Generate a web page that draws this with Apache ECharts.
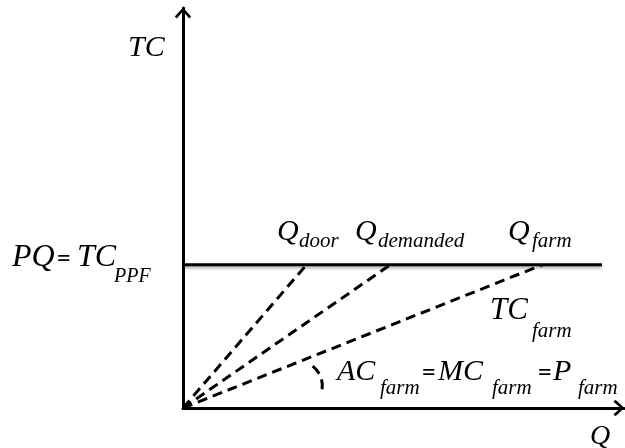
<!DOCTYPE html>
<html>
<head>
<meta charset="utf-8">
<script src="https://cdn.jsdelivr.net/npm/echarts@6/dist/echarts.min.js"></script>
<style>html,body{margin:0;padding:0;background:#fff}#c{width:625px;height:448px}</style>
</head>
<body>
<div id="c"></div>
<script>
// ---- data (Q on x, TC on y, 0..10 scales) ----
const qDoor = 2.8;        // where dashed ray hits PQ line
const qDemanded = 4.7;
const qFarm = 8.15;
const tcPPF = 3.58;       // PQ = TC_PPF level
const qLineEnd = 9.5;     // end of the PQ line
// angle marker: centre (Q, TC), radius (Q units), start/end angle (deg, screen)
const arcCenter = [2.59, 0.55];
const arcRadius = 0.57;
const arcAngles = [-52, 14];
const axisMax = 10;

const F = '"Liberation Serif", "Times New Roman", serif';
function t(text, x, y, size, upright) {
  return { type: 'text', x: x, y: y, silent: true, z: 20,
    style: { text: text, font: (upright ? 'bold ' : 'italic ') + size + 'px ' + F, fill: '#000', align: 'left', verticalAlign: 'middle' } };
}
const chevron = 'path://M0,9.5 L8.5,0 L17,9.5 L15,11.5 L8.5,4 L2,11.5 Z';

const chart = echarts.init(document.getElementById('c'), null, { renderer: 'canvas' });
const dashed = { color: '#000', width: 3, type: [10, 6] };
chart.setOption({
  animation: false,
  backgroundColor: '#fff',
  grid: { left: 183, right: 1, top: 8, bottom: 40, containLabel: false },
  xAxis: { type: 'value', min: 0, max: axisMax, splitLine: { show: false }, axisTick: { show: false }, axisLabel: { show: false },
    axisLine: { show: true, onZero: false, lineStyle: { color: '#000', width: 3 }, symbol: ['none', chevron], symbolSize: [17, 11], symbolOffset: [0, -5] } },
  yAxis: { type: 'value', min: 0, max: axisMax, splitLine: { show: false }, axisTick: { show: false }, axisLabel: { show: false },
    axisLine: { show: true, onZero: false, lineStyle: { color: '#000', width: 3 }, symbol: ['none', chevron], symbolSize: [17, 11], symbolOffset: [0, -5] } },
  series: [
    { type: 'line', data: [[0, tcPPF], [qLineEnd, tcPPF]], symbol: 'none', z: 5,
      lineStyle: { color: '#000', width: 3, shadowColor: 'rgba(0,0,0,0.35)', shadowBlur: 3, shadowOffsetY: 2 } },
    { type: 'line', data: [[0, 0], [qDoor, tcPPF]], symbol: 'none', lineStyle: dashed },
    { type: 'line', data: [[0, 0], [qDemanded, tcPPF]], symbol: 'none', lineStyle: dashed },
    { type: 'line', data: [[0, 0], [qFarm, tcPPF]], symbol: 'none', lineStyle: dashed },
    { type: 'custom', data: [[arcCenter[0], arcCenter[1], arcRadius, arcAngles[0], arcAngles[1]]],
      renderItem: function (params, api) {
        const c = api.coord([api.value(0), api.value(1)]);
        const r = api.coord([api.value(2), 0])[0] - api.coord([0, 0])[0];
        return { type: 'arc', shape: { cx: c[0], cy: c[1], r: r,
          startAngle: api.value(3) * Math.PI / 180, endAngle: api.value(4) * Math.PI / 180, clockwise: true },
          style: { stroke: '#000', lineWidth: 3, lineDash: [10, 6], fill: null } };
      } }
  ],
  graphic: [
    t('TC', 128, 48, 30),
    t('PQ', 12, 258, 32), t('=', 57, 260, 24, true), t('TC', 77, 258, 32),
    t('PPF', 114, 277, 20),
    t('Q', 277, 232, 30), t('door', 299, 241, 21),
    t('Q', 355, 232, 30), t('demanded', 378, 241, 21),
    t('Q', 508, 232, 30), t('farm', 532, 241, 21),
    t('TC', 490, 311, 31), t('farm', 532, 331, 21),
    t('AC', 337, 372, 30), t('farm', 380, 388, 21),
    t('=', 422, 374, 24, true),
    t('MC', 438, 372, 30), t('farm', 492, 388, 21),
    t('=', 538, 374, 24, true),
    t('P', 553, 372, 30), t('farm', 578, 388, 21),
    t('Q', 590, 437, 28)
  ]
});
</script>
</body>
</html>
